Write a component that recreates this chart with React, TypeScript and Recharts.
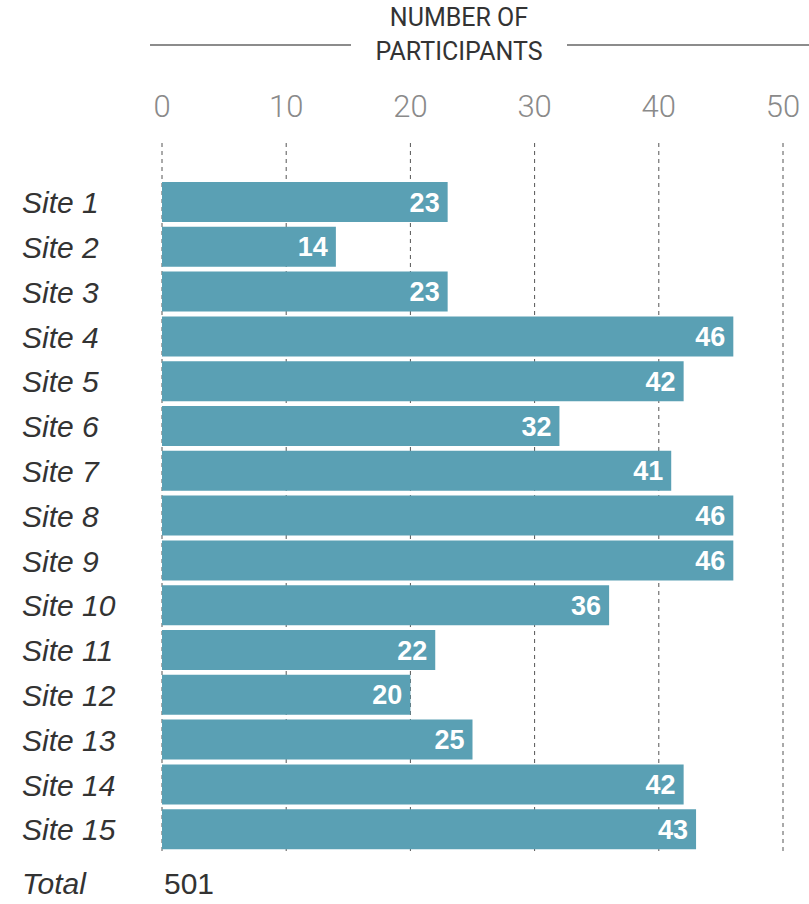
import React from 'react';
import { BarChart, Bar, XAxis, YAxis, CartesianGrid, LabelList } from 'recharts';

const sites = [
  'Site 1', 'Site 2', 'Site 3', 'Site 4', 'Site 5', 'Site 6', 'Site 7', 'Site 8',
  'Site 9', 'Site 10', 'Site 11', 'Site 12', 'Site 13', 'Site 14', 'Site 15',
];
const participants = [23, 14, 23, 46, 42, 32, 41, 46, 46, 36, 22, 20, 25, 42, 43];
const xTicks = [0, 10, 20, 30, 40, 50];
const axisTitle = ['NUMBER OF', 'PARTICIPANTS'];
const totalLabel = 'Total';

const data = sites.map((site, i) => ({ site, value: participants[i] }));
const total = participants.reduce((a, b) => a + b, 0);

const FONT = 'Roboto, "Noto Sans", sans-serif';
const SANS = '"Liberation Sans", Arial, sans-serif';

const YTick = (props: any) => {
  const { y, payload } = props;
  return (
    <text x={22} y={y} dy="0.36em" textAnchor="start" fontFamily={SANS} fontStyle="italic"
      fontSize={30} fill="#333333">
      {payload.value}
    </text>
  );
};

const XTick = (props: any) => {
  const { x, y, payload } = props;
  return (
    <text x={x} y={y - 18} textAnchor="middle" fontFamily={FONT} fontWeight={300}
      fontSize={31} fill="#8a8a8a">
      {payload.value}
    </text>
  );
};

export default function App() {
  return (
    <div style={{ position: 'absolute', left: 0, top: 0, width: 809, height: 904, background: '#fff', fontFamily: FONT }}>
      <div style={{ position: 'absolute', left: 150, top: 44, width: 201, height: 2, background: '#8c8c8c' }} />
      <div style={{ position: 'absolute', left: 567, top: 44, width: 242, height: 2, background: '#8c8c8c' }} />
      <div style={{ position: 'absolute', left: 351, top: 1, width: 216, textAlign: 'center', fontSize: 25, lineHeight: '34px', color: '#333', fontWeight: 400, whiteSpace: 'nowrap' }}>
        <div>{axisTitle[0]}</div>
        <div>{axisTitle[1]}</div>
      </div>
      <BarChart
        width={809}
        height={904}
        data={data}
        layout="vertical"
        margin={{ top: 83, right: 26, bottom: 49, left: 0 }}
      >
        <CartesianGrid horizontal={false} vertical={true} strokeDasharray="4 4" stroke="#555" />
        <XAxis
          type="number"
          orientation="top"
          domain={[0, 50]}
          ticks={xTicks}
          height={60}
          axisLine={false}
          tickLine={false}
          tick={<XTick />}
          interval={0}
        />
        <YAxis
          type="category"
          dataKey="site"
          width={162}
          axisLine={false}
          tickLine={false}
          tick={<YTick />}
          padding={{ top: 37, bottom: 3 }}
          interval={0}
        />
        <Bar dataKey="value" fill="#5aa0b4" barSize={40} isAnimationActive={false}>
          <LabelList dataKey="value" position="insideRight" offset={8} fill="#ffffff"
            fontSize={27} fontWeight={700} fontFamily={SANS} />
        </Bar>
      </BarChart>
      <div style={{ position: 'absolute', left: 22, top: 867, fontSize: 30, fontStyle: 'italic', color: '#333', fontFamily: SANS }}>{totalLabel}</div>
      <div style={{ position: 'absolute', left: 164, top: 867, fontSize: 30, color: '#333', fontFamily: SANS }}>{total}</div>
    </div>
  );
}
